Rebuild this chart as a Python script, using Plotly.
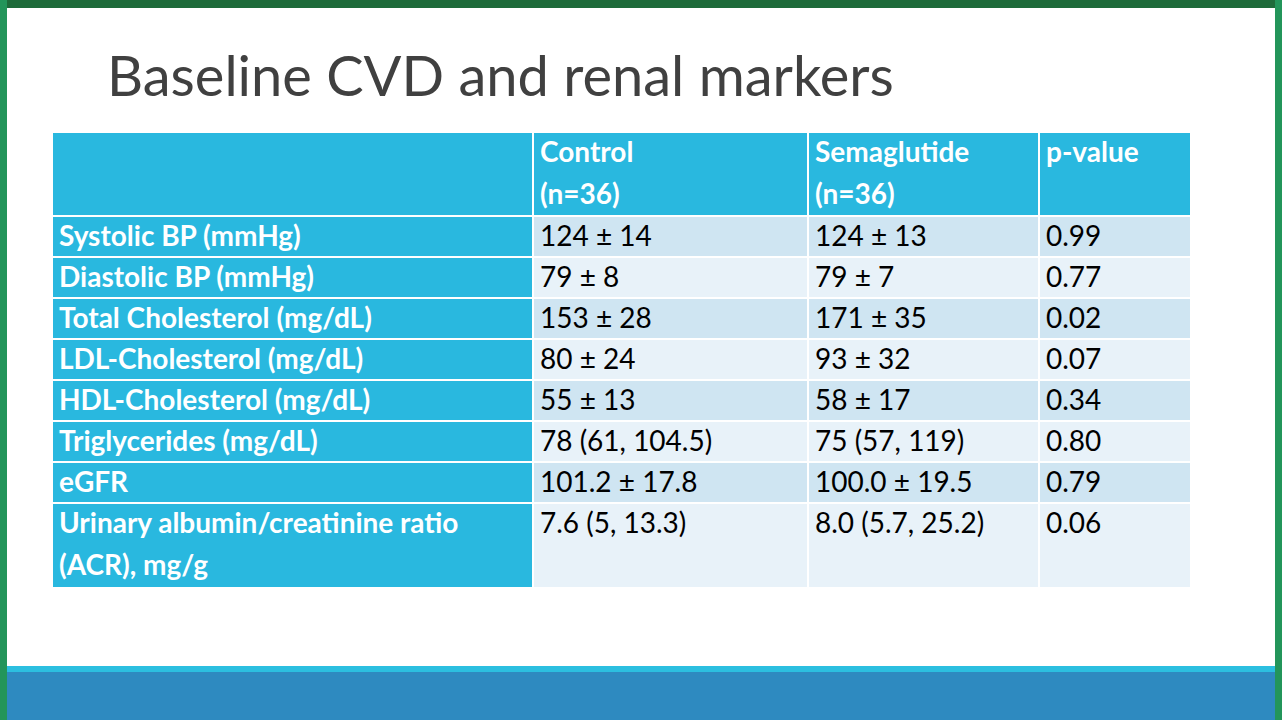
import plotly.graph_objects as go

# table data
markers = ["Systolic BP (mmHg)", "Diastolic BP (mmHg)", "Total Cholesterol (mg/dL)",
           "LDL-Cholesterol (mg/dL)", "HDL-Cholesterol (mg/dL)", "Triglycerides (mg/dL)",
           "eGFR", "Urinary albumin/creatinine ratio|(ACR), mg/g"]
control = ["124 ± 14", "79 ± 8", "153 ± 28", "80 ± 24", "55 ± 13",
           "78 (61, 104.5)", "101.2 ± 17.8", "7.6 (5, 13.3)"]
semaglutide = ["124 ± 13", "79 ± 7", "171 ± 35", "93 ± 32", "58 ± 17",
               "75 (57, 119)", "100.0 ± 19.5", "8.0 (5.7, 25.2)"]
p_values = ["0.99", "0.77", "0.02", "0.07", "0.34", "0.80", "0.79", "0.06"]
headers = ["", "Control|(n=36)", "Semaglutide|(n=36)", "p-value"]

W, H = 1282, 720
blue = "#29B8DF"
col_w = [481, 275, 231, 152]
row_h = [84] + [41] * 7 + [85]

x_edges = [0]
for w in col_w:
    x_edges.append(x_edges[-1] + w)
y_edges = [0]
for h in row_h:
    y_edges.append(y_edges[-1] + h)

columns = [markers, control, semaglutide, p_values]
z = []
for r in range(len(row_h)):
    row = []
    for c in range(len(col_w)):
        if r == 0 or c == 0:
            row.append(0)
        else:
            row.append(1 if r % 2 == 1 else 2)
    z.append(row)

fig = go.Figure(go.Heatmap(
    x=x_edges, y=y_edges, z=z, zmin=0, zmax=2, xgap=2, ygap=2, showscale=False,
    colorscale=[[0, blue], [0.33, blue], [0.34, "#CFE5F2"], [0.66, "#CFE5F2"],
                [0.67, "#E8F2F9"], [1, "#E8F2F9"]],
    hoverinfo="skip"))

# text of every cell, line by line
tx, ty, tt, tc = [], [], [], []
for c in range(len(col_w)):
    cells = [headers[c]] + columns[c]
    for r, cell in enumerate(cells):
        lines = cell.split("|")
        bold = r == 0 or c == 0
        for k, line in enumerate(lines):
            if not line:
                continue
            tx.append(x_edges[c] + 7)
            ty.append(y_edges[r] + (23 if len(lines) > 1 or r == 0 else 23) + 42 * k)
            tt.append("<b>%s</b>" % line if bold else line)
            tc.append("white" if bold else "black")

fig.add_trace(go.Scatter(x=tx, y=ty, text=tt, mode="text", textposition="middle right",
                         textfont=dict(family="Lato", size=28, color=tc), hoverinfo="skip"))

fig.update_xaxes(range=[0, x_edges[-1]], domain=[52 / W, 1191 / W], visible=False, fixedrange=True)
fig.update_yaxes(range=[y_edges[-1], 0], domain=[132 / H and 1 - 588 / H, 1 - 132 / H],
                 visible=False, fixedrange=True)

fig.add_shape(type="rect", xref="paper", yref="paper", x0=0, x1=1, y0=1 - 8 / H, y1=1,
              fillcolor="#1E6B3A", line_width=0, layer="below")
fig.add_shape(type="rect", xref="paper", yref="paper", x0=0, x1=7 / W, y0=0, y1=1,
              fillcolor="#23955A", line_width=0, layer="below")
fig.add_shape(type="rect", xref="paper", yref="paper", x0=1275 / W, x1=1, y0=0, y1=1,
              fillcolor="#23955A", line_width=0, layer="below")
fig.add_shape(type="rect", xref="paper", yref="paper", x0=7 / W, x1=1275 / W, y0=0, y1=(720 - 666) / H,
              fillcolor="#2CBFE0", line_width=0)
fig.add_shape(type="rect", xref="paper", yref="paper", x0=7 / W, x1=1275 / W, y0=0, y1=(720 - 672) / H,
              fillcolor="#2E8AC0", line_width=0)

fig.add_annotation(text="Baseline CVD and renal markers", xref="paper", yref="paper",
                   x=105 / W, y=1 - 75 / H, xanchor="left", yanchor="middle", showarrow=False,
                   font=dict(family="Lato", size=56, color="#404040"))

fig.update_layout(width=W, height=H, margin=dict(l=0, r=0, t=0, b=0), showlegend=False,
                  paper_bgcolor="white", plot_bgcolor="white")
fig.write_html("out.html", config={"displayModeBar": False},
               post_script="document.body.style.margin='0';")
